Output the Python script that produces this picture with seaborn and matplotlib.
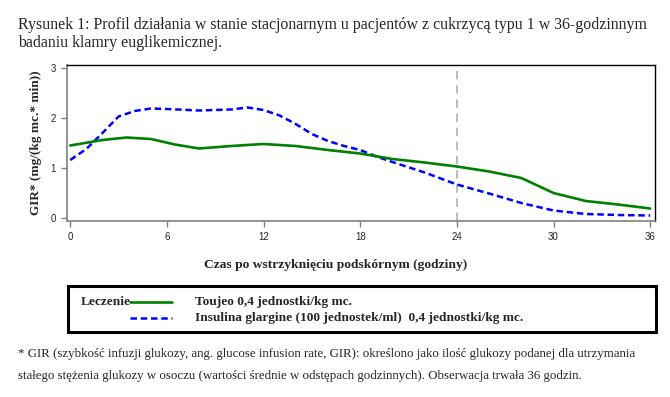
import numpy as np
import pandas as pd
import matplotlib
matplotlib.use("Agg")
import matplotlib.pyplot as plt
from matplotlib.lines import Line2D
from matplotlib.patches import Rectangle
import seaborn as sns

# GIR profile (mg/(kg*min)) vs hours after injection
toujeo_hours = [0, 2, 3.5, 5, 6.5, 8, 10, 12, 14, 16, 18, 20, 22, 24, 26, 28, 30, 32, 34, 36]
toujeo_gir = [1.45, 1.56, 1.61, 1.58, 1.47, 1.39, 1.44, 1.48, 1.44, 1.36, 1.29, 1.18,
              1.11, 1.03, 0.93, 0.80, 0.50, 0.34, 0.27, 0.19]

glargine_hours = [0, 1, 2, 3, 4, 5, 6, 8, 10, 11, 12, 13, 14, 15, 16, 17, 18, 19, 20,
                  22, 24, 26, 28, 30, 32, 34, 36]
glargine_gir = [1.16, 1.38, 1.70, 2.03, 2.14, 2.19, 2.18, 2.15, 2.17, 2.21, 2.16, 2.05,
                1.88, 1.68, 1.54, 1.44, 1.36, 1.23, 1.12, 0.91, 0.67, 0.49, 0.30,
                0.15, 0.08, 0.06, 0.05]

x_ticks = [0, 6, 12, 18, 24, 30, 36]
y_ticks = [0, 1, 2, 3]
marker_hour = 24

series_labels = ["Toujeo 0,4 jednostki/kg mc.",
                 "Insulina glargine (100 jednostek/ml)  0,4 jednostki/kg mc."]
title_lines = ["Rysunek 1: Profil działania w stanie stacjonarnym u pacjentów z cukrzycą typu 1 w 36-godzinnym",
               "badaniu klamry euglikemicznej."]
footnote_lines = ["* GIR (szybkość infuzji glukozy, ang. glucose infusion rate, GIR): określono jako ilość glukozy podanej dla utrzymania",
                  "stałego stężenia glukozy w osoczu (wartości średnie w odstępach godzinnych). Obserwacja trwała 36 godzin."]

GREEN = "#008000"
BLUE = "#0000ff"
SERIF = "Liberation Serif"

sns.set_style("white")
plt.rcParams["font.family"] = ["Liberation Sans", "DejaVu Sans"]

df_t = pd.DataFrame({"hour": toujeo_hours, "gir": toujeo_gir})
df_g = pd.DataFrame({"hour": glargine_hours, "gir": glargine_gir})

W, H = 670, 397
fig = plt.figure(figsize=(W / 100, H / 100), dpi=100)
ax = fig.add_axes([67 / W, 1 - 221 / H, (655 - 67) / W, (221 - 65) / H])

sns.lineplot(data=df_g, x="hour", y="gir", ax=ax, color=BLUE, lw=1.8,
             dashes=False, linestyle=(0, (2.6, 1.5)))
sns.lineplot(data=df_t, x="hour", y="gir", ax=ax, color=GREEN, lw=1.9)
ax.axvline(marker_hour, color="#b0b0b0", lw=1.2, linestyle=(0, (5, 3.5)), zorder=0)

ax.set_xlim(-0.2, 36.3)
ax.set_ylim(-0.06, 3.06)
ax.set_xticks(x_ticks)
ax.set_yticks(y_ticks)
ax.tick_params(axis="both", direction="out", length=4, width=1, color="#808080",
               labelsize=7, pad=4, left=True, bottom=True)
ax.set_xlabel("")
ax.set_ylabel("GIR* (mg/(kg mc.* min))", family=SERIF, fontweight="bold", fontsize=9.5, labelpad=6)
for side in ("left", "bottom"):
    ax.spines[side].set_color("#808080")
    ax.spines[side].set_linewidth(1.2)
for side in ("top", "right"):
    ax.spines[side].set_color("black")
    ax.spines[side].set_linewidth(1.0)

fig.text(336 / W, 1 - 265 / H, "Czas po wstrzyknięciu podskórnym (godziny)",
         family=SERIF, fontweight="bold", fontsize=9.7, ha="center", va="center")

# titles
fig.text(18 / W, 1 - 25 / H, title_lines[0], family=SERIF, fontsize=11.4, va="center")
fig.text(18 / W, 1 - 43 / H, title_lines[1], family=SERIF, fontsize=11.4, va="center")

# legend box
fig.patches.append(Rectangle((68 / W, 1 - 332 / H), (656 - 68) / W, (332 - 286) / H,
                             transform=fig.transFigure, fill=False, lw=2.2, ec="black"))
fig.text(81 / W, 1 - 302 / H, "Leczenie", family=SERIF, fontweight="bold", fontsize=9.6, va="center")
fig.lines.append(Line2D([130 / W, 172 / W], [1 - 302 / H, 1 - 302 / H], transform=fig.transFigure,
                        color=GREEN, lw=1.9))
fig.lines.append(Line2D([130 / W, 172 / W], [1 - 318 / H, 1 - 318 / H], transform=fig.transFigure,
                        color=BLUE, lw=1.8, linestyle=(0, (2.6, 1.5))))
fig.text(195 / W, 1 - 302 / H, series_labels[0], family=SERIF, fontweight="bold", fontsize=9.6, va="center")
fig.text(195 / W, 1 - 318 / H, series_labels[1], family=SERIF, fontweight="bold", fontsize=9.6, va="center")

# footnote
fig.text(18 / W, 1 - 354 / H, footnote_lines[0], family=SERIF, fontsize=9.3, va="center")
fig.text(18 / W, 1 - 376 / H, footnote_lines[1], family=SERIF, fontsize=9.3, va="center")

fig.savefig("out.png", dpi=100)
